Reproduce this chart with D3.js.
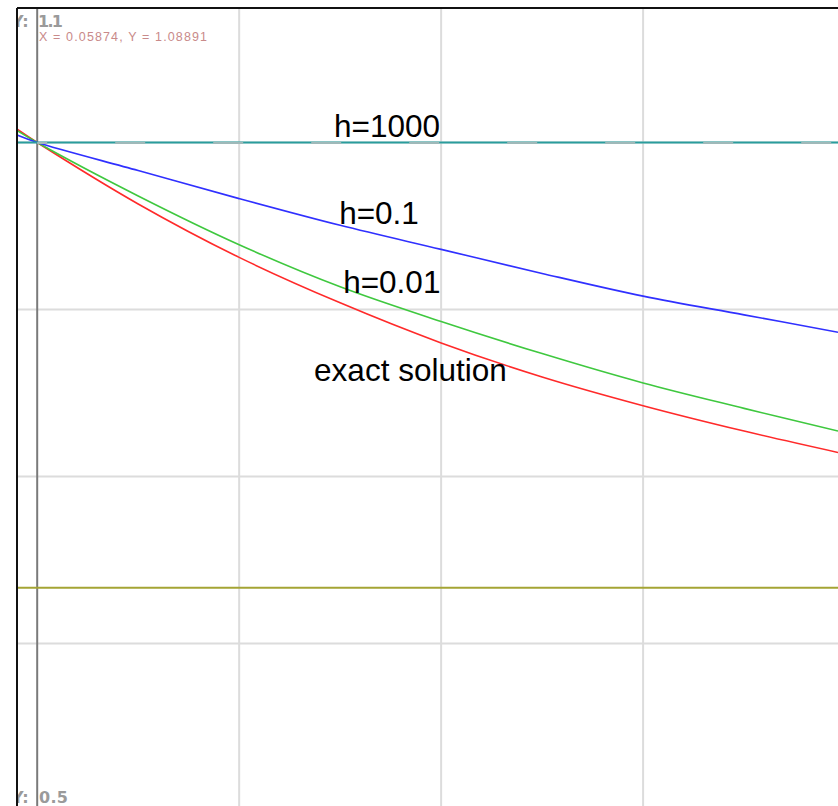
<!DOCTYPE html>
<html>
<head>
<meta charset="utf-8">
<script src="https://cdn.jsdelivr.net/npm/d3@7"></script>
<style>
  html, body { margin: 0; padding: 0; background: #fff; }
  svg { display: block; }
</style>
</head>
<body>
<svg id="chart" width="838" height="806"></svg>
<script>
// Solution curves of the ODE, sampled at x positions (x, y pairs)
const xSamples = [-0.1, 0, 0.5, 1, 1.5, 2, 2.5, 3, 3.5, 3.965];
const exactY   = [1.010, 1.000, 0.954, 0.914, 0.880, 0.850, 0.8245, 0.803, 0.784, 0.768];
const h001Y    = [1.009, 1.000, 0.960, 0.9235, 0.892, 0.866, 0.842, 0.820, 0.801, 0.784];
const h01Y     = [1.0056, 1.000, 0.979, 0.958, 0.938, 0.920, 0.902, 0.885, 0.871, 0.858];
const h1000Y   = [1.000, 1.000];
const h1000X   = [-0.1, 3.965];
const equilibriumY = 0.6667;

// Axis ranges and grid
const xDomain = [-0.1, 3.965];
const yDomain = [0.5, 1.1];
const xGrid = [1, 2, 3];
const yGrid = [1.0, 0.875, 0.75, 0.625];
const yTopLabel = "1.1";
const yBottomLabel = "0.5";
const cursorText = "X = 0.05874, Y = 1.08891";

// Curve labels: text and anchor point in data units (left, baseline)
const labels = [
  { text: "h=1000", x: 1.47, y: 1.0042 },
  { text: "h=0.1", x: 1.495, y: 0.9392 },
  { text: "h=0.01", x: 1.515, y: 0.8870 },
  { text: "exact solution", x: 1.371, y: 0.8215 }
];

const svg = d3.select("#chart");
const W = 838, H = 806;

const x = d3.scaleLinear().domain(xDomain).range([17, 838]);
const y = d3.scaleLinear().domain(yDomain).range([810.5, 8.9]);

svg.append("defs").append("clipPath").attr("id", "frame")
  .append("rect").attr("x", 18).attr("y", 9).attr("width", W - 18).attr("height", H - 9);

// grid
const grid = svg.append("g");
grid.selectAll("line.v").data(xGrid).join("line")
  .attr("x1", d => x(d)).attr("x2", d => x(d))
  .attr("y1", 8).attr("y2", H)
  .attr("stroke", "#dcdcdc").attr("stroke-width", 2);
grid.selectAll("line.h").data(yGrid).join("line")
  .attr("x1", 17).attr("x2", W)
  .attr("y1", d => y(d)).attr("y2", d => y(d))
  .attr("stroke", "#dcdcdc").attr("stroke-width", 2);

// vertical axis at x = 0
svg.append("line")
  .attr("x1", x(0)).attr("x2", x(0)).attr("y1", 8).attr("y2", H)
  .attr("stroke", "#7a7a7a").attr("stroke-width", 2);

const plot = svg.append("g").attr("clip-path", "url(#frame)");

const line = d3.line().x(d => x(d[0])).y(d => y(d[1])).curve(d3.curveCatmullRom.alpha(0.5));

const series = [
  { ys: exactY, color: "#ff2a2a" },
  { ys: h001Y, color: "#3fc83f" },
  { ys: h01Y, color: "#3030ff" }
];
series.forEach(s => {
  plot.append("path")
    .datum(xSamples.map((xv, i) => [xv, s.ys[i]]))
    .attr("fill", "none").attr("stroke", s.color).attr("stroke-width", 1.6)
    .attr("d", line);
});

// h = 1000 : a single step, flat
plot.append("path")
  .datum(h1000X.map((xv, i) => [xv, h1000Y[i]]))
  .attr("fill", "none").attr("stroke", "#2a9d9d").attr("stroke-width", 2)
  .attr("d", line);
plot.append("line")
  .attr("x1", x(0)).attr("x2", W)
  .attr("y1", y(1.0) + 0.5).attr("y2", y(1.0) + 0.5)
  .attr("stroke", "#9fb9b9").attr("stroke-width", 2)
  .attr("stroke-dasharray", "30 68").attr("stroke-dashoffset", 20);

// equilibrium line
plot.append("line")
  .attr("x1", x(xDomain[0])).attr("x2", W)
  .attr("y1", y(equilibriumY)).attr("y2", y(equilibriumY))
  .attr("stroke", "#a4a434").attr("stroke-width", 2);

// frame: top and left edges
svg.append("line").attr("x1", 17).attr("x2", W).attr("y1", 8).attr("y2", 8)
  .attr("stroke", "#111").attr("stroke-width", 2);
svg.append("line").attr("x1", 17).attr("x2", 17).attr("y1", 8).attr("y2", H)
  .attr("stroke", "#111").attr("stroke-width", 2);

// range labels
const rangeG = svg.append("g").attr("clip-path", "url(#frame)")
  .attr("font-family", "'DejaVu Sans', sans-serif").attr("font-size", 16)
  .attr("fill", "#9a9a9a").attr("font-weight", "bold");
rangeG.append("text").attr("x", 12).attr("y", 27).text("Y:");
rangeG.append("text").attr("x", 38).attr("y", 27).attr("textLength", 25).text(yTopLabel);
rangeG.append("text").attr("x", 12).attr("y", 803).text("Y:");
rangeG.append("text").attr("x", 39).attr("y", 803).attr("textLength", 29).text(yBottomLabel);

// cursor readout
svg.append("text").attr("x", 39).attr("y", 41)
  .attr("font-family", "'Liberation Sans', Arial, sans-serif").attr("font-size", 12.5)
  .attr("fill", "#c98a8a").attr("textLength", 168).text(cursorText);

// curve labels
svg.append("g").selectAll("text").data(labels).join("text")
  .attr("x", d => x(d.x)).attr("y", d => y(d.y))
  .attr("font-family", "'Liberation Sans', Arial, sans-serif").attr("font-size", 31.5)
  .attr("fill", "#000").text(d => d.text);
</script>
</body>
</html>
